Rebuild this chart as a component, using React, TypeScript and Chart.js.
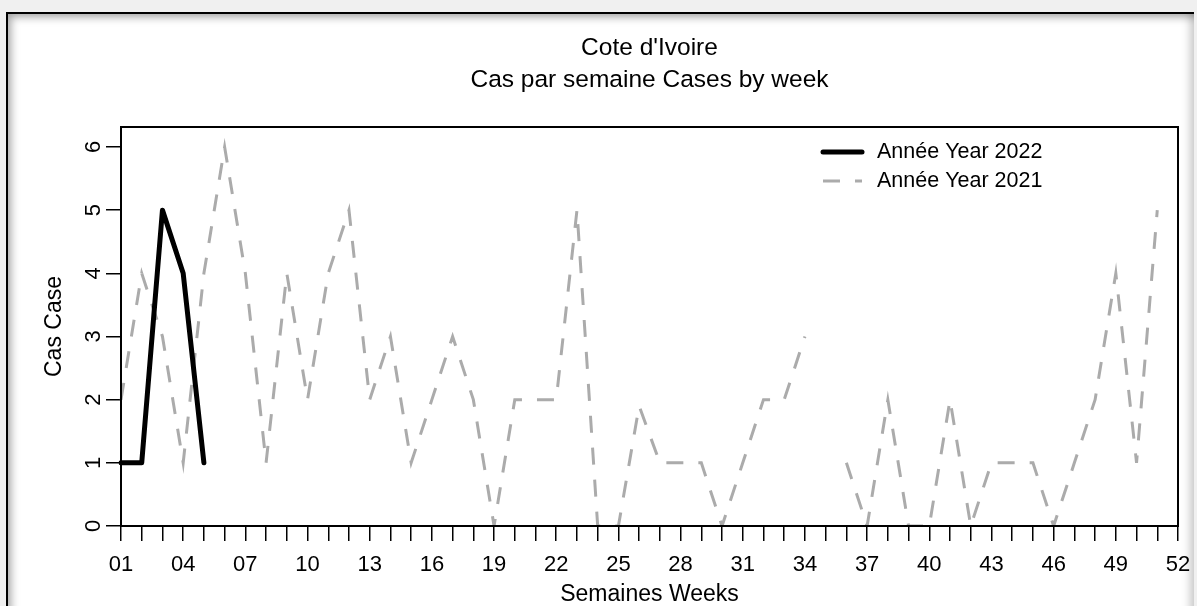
import React, { useEffect, useRef } from 'react';
import { Chart, registerables } from 'chart.js';

Chart.register(...registerables);

const weekLabels = [
  '01', '02', '03', '04', '05', '06', '07', '08', '09', '10',
  '11', '12', '13', '14', '15', '16', '17', '18', '19', '20',
  '21', '22', '23', '24', '25', '26', '27', '28', '29', '30',
  '31', '32', '33', '34', '35', '36', '37', '38', '39', '40',
  '41', '42', '43', '44', '45', '46', '47', '48', '49', '50',
  '51', '52',
];

const cases2022 = [1, 1, 5, 4, 1];

const cases2021 = [
  2, 4, 3, 1, 4, 6, 4, 1, 4, 2,
  4, 5, 2, 3, 1, 2, 3, 2, 0, 2,
  2, 2, 5, 0, 0, 1.9, 1, 1, 1, 0,
  1, 2, 2, 3, null, 1, 0, 2, 0, 0,
  2, 0, 1, 1, 1, 0, 1, 2, 4, 1,
  5, null,
];

const yTickValues = [0, 1, 2, 3, 4, 5, 6];

const titleLines = ["Cote d'Ivoire", 'Cas par semaine Cases by week'];
const seriesLabels = ['Année Year 2022', 'Année Year 2021'];
const xTitle = 'Semaines Weeks';
const yTitle = 'Cas Case';

const FONT = '"Liberation Sans", Arial, sans-serif';

const boxPlugin = {
  id: 'rBox',
  afterDraw(chart: any) {
    const { ctx, chartArea: a } = chart;
    ctx.save();
    ctx.strokeStyle = '#000';
    ctx.lineWidth = 2;
    ctx.strokeRect(a.left, a.top, a.right - a.left, a.bottom - a.top);
    ctx.restore();
  },
};

const yLabelPlugin = {
  id: 'yRotLabels',
  afterDraw(chart: any) {
    const { ctx } = chart;
    const y = chart.scales.y;
    ctx.save();
    ctx.fillStyle = '#000';
    ctx.font = `22px ${FONT}`;
    ctx.textAlign = 'center';
    ctx.textBaseline = 'middle';
    y.ticks.forEach((t: any) => {
      const py = y.getPixelForValue(t.value);
      ctx.save();
      ctx.translate(chart.chartArea.left - 27, py);
      ctx.rotate(-Math.PI / 2);
      ctx.fillText(String(t.value), 0, 0);
      ctx.restore();
    });
    ctx.restore();
  },
};

const titlePlugin = {
  id: 'rTitle',
  afterDraw(chart: any) {
    const { ctx, chartArea: a } = chart;
    const cx = (a.left + a.right) / 2;
    ctx.save();
    ctx.fillStyle = '#000';
    ctx.font = `24.5px ${FONT}`;
    ctx.textAlign = 'center';
    ctx.textBaseline = 'middle';
    ctx.fillText(titleLines[0], cx, a.top - 79);
    ctx.fillText(titleLines[1], cx, a.top - 47);
    ctx.restore();
  },
};

const legendPlugin = {
  id: 'rLegend',
  afterDraw(chart: any) {
    const { ctx, chartArea: a } = chart;
    const x0 = a.right - 355;
    const y0 = a.top + 25;
    const rowH = 29;
    ctx.save();
    chart.data.datasets.forEach((ds: any, i: number) => {
      const y = y0 + i * rowH;
      ctx.save();
      ctx.strokeStyle = ds.borderColor;
      ctx.lineWidth = ds.borderWidth;
      ctx.lineCap = ds.borderCapStyle || 'butt';
      ctx.setLineDash(ds.borderDash || []);
      ctx.beginPath();
      ctx.moveTo(x0, y);
      ctx.lineTo(x0 + 39, y);
      ctx.stroke();
      ctx.restore();
      ctx.fillStyle = '#000';
      ctx.font = `21.5px ${FONT}`;
      ctx.textAlign = 'left';
      ctx.textBaseline = 'middle';
      ctx.fillText(ds.label, x0 + 54, y);
    });
    ctx.restore();
  },
};

export default function App() {
  const canvasRef = useRef<HTMLCanvasElement | null>(null);

  useEffect(() => {
    if (!canvasRef.current) return;
    const chart = new Chart(canvasRef.current, {
      type: 'line',
      data: {
        labels: weekLabels,
        datasets: [
          {
            label: seriesLabels[0],
            data: cases2022,
            borderColor: '#000000',
            borderWidth: 5,
            borderCapStyle: 'round',
            borderJoinStyle: 'round',
            pointRadius: 0,
            tension: 0,
            fill: false,
          },
          {
            label: seriesLabels[1],
            data: cases2021,
            borderColor: '#ababab',
            borderWidth: 3,
            borderDash: [17, 15],
            borderCapStyle: 'butt',
            borderJoinStyle: 'miter',
            pointRadius: 0,
            tension: 0,
            fill: false,
            spanGaps: false,
          },
        ],
      },
      options: {
        animation: false,
        responsive: false,
        maintainAspectRatio: false,
        layout: { padding: { left: 0, top: 127, right: 19, bottom: 0 } },
        plugins: {
          legend: { display: false },
          title: { display: false },
          tooltip: { enabled: false },
        },
        scales: {
          x: {
            type: 'category',
            offset: false,
            afterFit: (s: any) => {
              s.height = 80;
              s.paddingLeft = 0;
              s.paddingRight = 0;
            },
            grid: {
              display: true,
              drawOnChartArea: false,
              drawTicks: true,
              tickLength: 15,
              color: '#000',
              lineWidth: 1.5,
              offset: false,
            },
            border: { display: true, color: '#000', width: 2 },
            ticks: {
              autoSkip: false,
              maxRotation: 0,
              minRotation: 0,
              padding: 11,
              color: '#000',
              font: { family: FONT, size: 22 },
              callback: (_v: any, idx: number) => (idx % 3 === 0 ? weekLabels[idx] : ''),
            },
            title: {
              display: true,
              text: xTitle,
              color: '#000',
              font: { family: FONT, size: 23, lineHeight: 1 },
              padding: { top: 0, bottom: 0 },
            },
          },
          y: {
            type: 'linear',
            min: 0,
            max: 6.316,
            afterFit: (s: any) => {
              s.width = 121;
              s.paddingTop = 0;
              s.paddingBottom = 0;
            },
            afterBuildTicks: (s: any) => {
              s.ticks = yTickValues.map((v) => ({ value: v }));
            },
            grid: {
              display: true,
              drawOnChartArea: false,
              drawTicks: true,
              tickLength: 15,
              color: '#000',
              lineWidth: 1.5,
            },
            border: { display: true, color: '#000', width: 2 },
            ticks: {
              color: 'rgba(0,0,0,0)',
              font: { family: FONT, size: 22 },
            },
            title: {
              display: true,
              text: yTitle,
              color: '#000',
              font: { family: FONT, size: 23, lineHeight: 1 },
              padding: { top: 43, bottom: 0 },
            },
          },
        },
      },
      plugins: [boxPlugin, yLabelPlugin, titlePlugin, legendPlugin],
    } as any);
    return () => chart.destroy();
  }, []);

  return (
    <div
      style={{
        position: 'fixed',
        left: 0,
        top: 0,
        width: 1197,
        height: 606,
        background: '#f0f0f0',
        overflow: 'hidden',
      }}
    >
      <div
        style={{
          position: 'absolute',
          left: 6,
          top: 12,
          width: 1186,
          height: 700,
          background: '#ffffff',
          borderTop: '2px solid #000',
          borderLeft: '2px solid #000',
          boxShadow:
            'inset 7px 7px 8px -4px rgba(0,0,0,0.35), inset -9px 0 8px -5px rgba(0,0,0,0.22)',
        }}
      />
      <canvas
        ref={canvasRef}
        width={1197}
        height={606}
        style={{ position: 'absolute', left: 0, top: 0, width: 1197, height: 606 }}
      />
    </div>
  );
}
